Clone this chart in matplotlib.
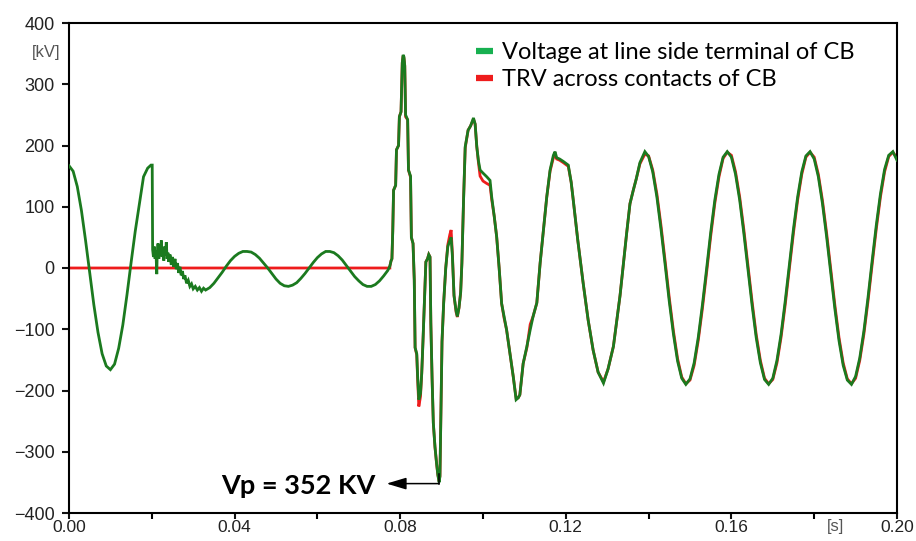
import matplotlib
matplotlib.use("Agg")
import matplotlib.pyplot as plt
from matplotlib.lines import Line2D
from matplotlib.ticker import MultipleLocator

# ---------------- data ----------------
# time [s] and line-side voltage [kV] before the breaker transient
t_pre = [0.0000, 0.0010, 0.0020, 0.0030, 0.0040, 0.0050, 0.0060, 0.0070, 0.0080, 0.0090,
         0.0100, 0.0110, 0.0120, 0.0130, 0.0140, 0.0150, 0.0160, 0.0170, 0.0180, 0.0190,
         0.0198, 0.0201,
         0.0202, 0.0204, 0.0206, 0.0208, 0.0210, 0.0212, 0.0213, 0.0215, 0.0217, 0.0219,
         0.0221, 0.0223, 0.0225, 0.0227, 0.0229, 0.0231, 0.0233, 0.0235, 0.0237, 0.0239,
         0.0241, 0.0244, 0.0247, 0.0250, 0.0253, 0.0256, 0.0259, 0.0262, 0.0265, 0.0268,
         0.0271, 0.0274, 0.0277, 0.0280, 0.0284, 0.0288, 0.0292, 0.0296, 0.0300, 0.0305,
         0.0310, 0.0315, 0.0320, 0.0325, 0.0330,
         0.034, 0.035, 0.036, 0.037, 0.038, 0.039, 0.040, 0.041, 0.042, 0.043, 0.044,
         0.045, 0.046, 0.047, 0.048, 0.049, 0.050, 0.051, 0.052, 0.053, 0.054, 0.055,
         0.056, 0.057, 0.058, 0.059, 0.060, 0.061, 0.062, 0.063, 0.064, 0.065, 0.066,
         0.067, 0.068, 0.069, 0.070, 0.071, 0.072, 0.073, 0.074, 0.075, 0.076, 0.077]
v_line_pre = [167, 158, 133, 94, 45, -8, -60, -105, -140, -160,
              -166, -157, -131, -93, -44, 9, 60, 104, 149, 163,
              168, 168,
              30, 18, 35, 15, 28, -10, 22, 40, 15, 38,
              20, 45, 18, 30, 12, 35, 20, 42, 15, 25,
              10, 22, 5, 18, 2, 15, -2, 8, -8, 2,
              -12, -5, -18, -12, -25, -20, -30, -26, -34, -30,
              -36, -32, -38, -33, -36,
              -32, -25, -16, -7, 3, 12, 19, 24, 27, 27, 26,
              22, 16, 8, 0, -9, -18, -25, -29, -30, -28, -24,
              -17, -9, 0, 9, 17, 23, 27, 27, 25, 20, 13,
              4, -5, -14, -21, -27, -30, -30, -27, -21, -13, -4]

# TRV across contacts before the transient (contacts closed -> 0 kV)
t_trv_pre = [0.0, 0.0775]
v_trv_pre = [0, 0]

# time [s] after the breaker transient starts
t_post = [0.0775, 0.0778, 0.0780, 0.0782, 0.0784, 0.0789, 0.0791, 0.0796, 0.0798, 0.0802,
          0.0805, 0.0807, 0.0809, 0.0811, 0.0813, 0.0818, 0.0820, 0.0825, 0.0827, 0.0831,
          0.0834, 0.0836, 0.0840, 0.0842, 0.0845, 0.0849, 0.0852, 0.0855, 0.0858, 0.0862,
          0.0866, 0.0869, 0.0872, 0.0874, 0.0877, 0.0880, 0.0884, 0.0888, 0.0891, 0.0894,
          0.0896, 0.0898, 0.0901, 0.0905, 0.0910, 0.0915, 0.0920, 0.0923, 0.0926, 0.0930,
          0.0935, 0.0938, 0.0942, 0.0946, 0.0949, 0.0953, 0.0957, 0.0964, 0.0970, 0.0977,
          0.0981, 0.0985, 0.0989, 0.0993, 0.1000, 0.1009, 0.1017, 0.1021, 0.1027, 0.1033,
          0.1039, 0.1045, 0.1051, 0.1057, 0.1065, 0.1073, 0.1080, 0.1085, 0.1089, 0.1097,
          0.1106, 0.1114, 0.1121, 0.1130, 0.1138, 0.1146, 0.1154, 0.1162, 0.1170, 0.1174,
          0.1178, 0.1185, 0.1194, 0.1206, 0.1213, 0.1218, 0.1229, 0.1242, 0.1254, 0.1266,
          0.1278, 0.1291, 0.1302, 0.1315, 0.1331, 0.1347, 0.1355, 0.1363, 0.1370, 0.1379,
          0.1391,
          0.140, 0.141, 0.142, 0.143, 0.144, 0.145, 0.146, 0.147, 0.148, 0.149,
          0.150, 0.151, 0.152, 0.153, 0.154, 0.155, 0.156, 0.157, 0.158, 0.159,
          0.160, 0.161, 0.162, 0.163, 0.164, 0.165, 0.166, 0.167, 0.168, 0.169,
          0.170, 0.171, 0.172, 0.173, 0.174, 0.175, 0.176, 0.177, 0.178, 0.179,
          0.180, 0.181, 0.182, 0.183, 0.184, 0.185, 0.186, 0.187, 0.188, 0.189,
          0.190, 0.191, 0.192, 0.193, 0.194, 0.195, 0.196, 0.197, 0.198, 0.199, 0.200]
# line-side voltage [kV] after the transient starts
v_line_post = [3, 12, 15, 60, 127, 135, 193, 200, 247, 255,
               335, 348, 345, 330, 250, 242, 160, 150, 50, 40,
               -20, -130, -140, -175, -215, -205, -172, -120, -63, 10,
               15, 22, 18, -90, -180, -253, -292, -320, -338, -350,
               -340, -250, -120, -57, 0, 35, 45, 50, 20, -45,
               -70, -79, -65, -40, 8, 110, 198, 225, 232, 245,
               235, 198, 175, 160, 155, 149, 143, 116, 85, 51,
               0, -58, -80, -101, -139, -177, -215, -212, -207, -156,
               -128, -101, -79, -57, 8, 62, 116, 160, 184, 190,
               180, 178, 174, 168, 140, 111, 45, -25, -85, -134,
               -170, -188, -165, -128, -45, 57, 105, 127, 145, 172,
               190,
               182, 157, 116, 63, 5, -55, -108, -152, -180, -190,
               -181, -155, -113, -60, -2, 58, 111, 153, 181, 190,
               181, 153, 111, 57, -2, -61, -114, -155, -182, -190,
               -180, -151, -108, -54, 5, 64, 116, 157, 183, 190,
               178, 149, 105, 51, -8, -67, -119, -159, -183, -190,
               -177, -147, -103, -48, 12, 70, 121, 161, 184, 190, 176]
# TRV across contacts [kV] after the transient starts
v_trv_post = [3, 12, 15, 60, 127, 135, 193, 200, 247, 255,
              335, 346, 343, 330, 247, 242, 160, 148, 50, 40,
              -20, -130, -142, -180, -226, -210, -172, -120, -63, 10,
              15, 22, 18, -90, -180, -253, -292, -320, -338, -348,
              -340, -250, -120, -57, 0, 38, 55, 62, 25, -45,
              -72, -80, -65, -40, 8, 110, 196, 225, 232, 243,
              235, 198, 172, 150, 142, 138, 135, 112, 85, 51,
              0, -58, -82, -101, -139, -177, -213, -212, -207, -156,
              -130, -92, -79, -57, 8, 62, 116, 158, 180, 184,
              178, 176, 172, 166, 140, 111, 45, -25, -85, -134,
              -170, -186, -165, -128, -45, 57, 105, 127, 145, 170,
              186,
              183, 160, 121, 69, 11, -49, -103, -148, -178, -189,
              -183, -159, -118, -66, -8, 52, 106, 149, 179, 189,
              184, 157, 116, 63, 4, -55, -109, -151, -180, -189,
              -182, -155, -113, -60, -1, 58, 111, 153, 181, 189,
              181, 153, 110, 57, -2, -61, -114, -155, -181, -189,
              -180, -151, -108, -54, 6, 64, 116, 157, 182, 189, 180]

# annotated peak of the line-side voltage
vp_time = 0.0894
vp_value = -352
vp_text = "Vp = 352 KV"

series_labels = ["Voltage at line side terminal of CB", "TRV across contacts of CB"]
x_ticks = [0.00, 0.04, 0.08, 0.12, 0.16, 0.20]
x_tick_labels = ["0.00", "0.04", "0.08", "0.12", "0.16", "0.20"]
y_ticks = [-400, -300, -200, -100, 0, 100, 200, 300, 400]

# ---------------- style ----------------
GREEN_LINE = "#1b7a1f"
GREEN_KEY = "#17b050"
RED = "#ee1c1c"
TICK_FONT = ["Liberation Sans", "DejaVu Sans"]
TEXT_FONT = ["Lato", "DejaVu Sans"]

fig = plt.figure(figsize=(9.16, 5.41), dpi=100)
ax = fig.add_axes([69 / 916, 1 - 513 / 541, (897 - 69) / 916, (513 - 23) / 541])

ax.plot(t_trv_pre + t_post, v_trv_pre + v_trv_post, color=RED, lw=2.0,
        solid_joinstyle="miter", zorder=2)
ax.plot(t_pre + t_post, v_line_pre + v_line_post, color=GREEN_LINE, lw=2.0,
        solid_joinstyle="miter", zorder=3)

ax.set_xlim(0, 0.2)
ax.set_ylim(-400, 400)
ax.set_xticks(x_ticks)
ax.set_xticklabels(x_tick_labels)
ax.xaxis.set_minor_locator(MultipleLocator(0.02))
ax.set_yticks(y_ticks)
ax.tick_params(axis="y", which="major", direction="out", length=5, width=1.5,
               labelsize=13, pad=5.5, colors="#111111")
ax.tick_params(axis="x", which="major", direction="out", length=4.5, width=1.5,
               labelsize=12.5, pad=0.5, colors="#111111")
ax.tick_params(axis="x", which="minor", direction="out", length=4.0, width=1.5)
ax.tick_params(top=False, right=False, which="both")
for lab in ax.get_xticklabels() + ax.get_yticklabels():
    lab.set_family(TICK_FONT)
    lab.set_color("#222222")
for sp in ax.spines.values():
    sp.set_linewidth(1.5)
    sp.set_color("black")

# unit labels
fig.text(46 / 916, 1 - 53 / 541, "[kV]", family=TICK_FONT, fontsize=12,
         color="#555555", ha="center", va="center")
fig.text(836 / 916, 1 - 526 / 541, "[s]", family=TICK_FONT, fontsize=12,
         color="#555555", ha="center", va="center")

# legend
handles = [Line2D([0], [0], color=GREEN_KEY, lw=4.5, solid_capstyle="butt"),
           Line2D([0], [0], color=RED, lw=4.5, solid_capstyle="butt")]
ax.legend(handles, series_labels, loc="upper left",
          bbox_to_anchor=((476 - 69) / 828, 1 - (42 - 23) / 490),
          frameon=False, handlelength=0.7, handletextpad=0.4,
          labelspacing=0.27, borderpad=0, borderaxespad=0,
          prop={"family": TEXT_FONT, "size": 17})

# Vp annotation
ax.plot([vp_time, vp_time], [-336, vp_value], color="black", lw=1.1, zorder=4)
ax.annotate("", xy=(0.0767, vp_value), xytext=(vp_time, vp_value),
            arrowprops=dict(arrowstyle="-|>,head_length=0.6,head_width=0.18",
                            color="black", lw=1.1, mutation_scale=20,
                            shrinkA=0, shrinkB=0), zorder=4)
ax.text(0.0740, vp_value - 4, vp_text, family=TEXT_FONT, fontsize=19.5,
        fontweight="bold", color="black", ha="right", va="center")

fig.savefig("out.png", dpi=100, facecolor="white")
